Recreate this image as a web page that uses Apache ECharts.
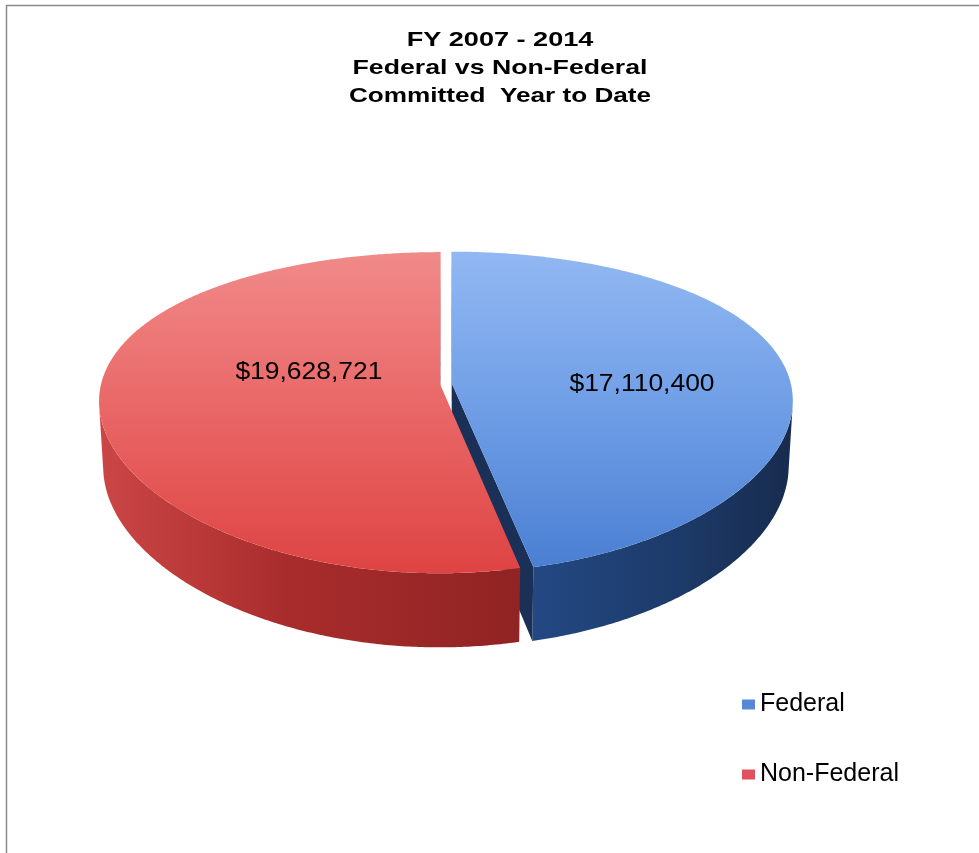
<!DOCTYPE html>
<html>
<head>
<meta charset="utf-8">
<title>FY 2007 - 2014 Federal vs Non-Federal</title>
<script src="https://cdn.jsdelivr.net/npm/echarts@6/dist/echarts.min.js"></script>
<style>
  html, body { margin: 0; padding: 0; background: #ffffff; }
  #chart { width: 979px; height: 853px; }
</style>
</head>
<body>
<div id="chart"></div>
<script>
// Committed amounts, fiscal years 2007-2014
const categories = ['Federal', 'Non-Federal'];
const amounts = [17110400, 19628721];
const titleLines = ['FY 2007 - 2014', 'Federal vs Non-Federal', 'Committed  Year to Date'];

const FONT = "'Liberation Sans', Arial, Helvetica, sans-serif";

// Camera for the tilted disc (unit radius, viewed from above and in front)
const CX = 446, CY = 384;        // screen position of the disc centre
const FOCAL = 1705;              // focal length in px
const DIST = 5.03;               // camera distance, in radii
const TILT = 27.3 * Math.PI / 180;
const H_PERSP = 0.6;             // strength of horizontal foreshortening
const THICK = 0.22;              // disc thickness, in radii
const EXPLODE = 0.0176;          // slice separation, in radii
const sinA = Math.sin(TILT), cosA = Math.cos(TILT);

const total = amounts.reduce((s, v) => s + v, 0);
const rad = d => d * Math.PI / 180;
const LG = echarts.graphic.LinearGradient;

// world: X right, Y up, Z towards the viewer
function project(X, Y, Z) {
  const zy = DIST - Y * sinA - Z * cosA;
  const zx = DIST - (Y * sinA + Z * cosA) * H_PERSP;
  return [CX + FOCAL * X / zx, CY - FOCAL * (Y * cosA - Z * sinA) / zy];
}
const camera = [0, DIST * sinA, DIST * cosA];

const sliceStyles = [
  { // Federal
    legend: '#5688d6',
    top: new LG(0, 0, 0, 1, [
      { offset: 0, color: '#92b8f2' },
      { offset: 0.5, color: '#6f9ee6' },
      { offset: 1, color: '#4a7fd2' }]),
    side: new LG(0, 0, 1, 0, [
      { offset: 0, color: '#234883' },
      { offset: 0.55, color: '#1d3b6a' },
      { offset: 1, color: '#172b4e' }]),
    face: '#1a3056',
    labelShift: [22.6, 9.5]
  },
  { // Non-Federal
    legend: '#e0505e',
    top: new LG(0, 0, 0, 1, [
      { offset: 0, color: '#f18a8a' },
      { offset: 0.5, color: '#e96666' },
      { offset: 1, color: '#dd4443' }]),
    side: new LG(0, 0, 1, 0, [
      { offset: 0, color: '#cc4646' },
      { offset: 0.45, color: '#a92c2c' },
      { offset: 1, color: '#902323' }]),
    face: '#7a1c1c',
    labelShift: [38.4, -19.6]
  }
];

function signedArea(pts) {
  let s = 0;
  for (let i = 0; i < pts.length; i++) {
    const p = pts[i], q = pts[(i + 1) % pts.length];
    s += p[0] * q[1] - q[0] * p[1];
  }
  return s / 2;
}

// orientation of a wall segment that faces the viewer
const FRONT_SIGN = Math.sign(signedArea([
  project(Math.sin(rad(179.5)), 0, -Math.cos(rad(179.5))),
  project(Math.sin(rad(180.5)), 0, -Math.cos(rad(180.5))),
  project(Math.sin(rad(180.5)), -THICK, -Math.cos(rad(180.5))),
  project(Math.sin(rad(179.5)), -THICK, -Math.cos(rad(179.5)))
]));

function renderSlice(k) {
  return function (params, api) {
    const val = api.value(0);
    let before = 0;
    for (let i = 0; i < k; i++) before += amounts[i];
    const t0 = before / total * 360;
    const t1 = (before + val) / total * 360;
    const mid = (t0 + t1) / 2;
    const ex = EXPLODE * Math.sin(rad(mid));
    const ez = -EXPLODE * Math.cos(rad(mid));
    const W = (t, r, y) => [ex + r * Math.sin(rad(t)), y, ez - r * Math.cos(rad(t))];
    const P = (t, r, y) => { const w = W(t, r, y); return project(w[0], w[1], w[2]); };
    const arc = (a0, a1, y) => {
      const n = Math.max(2, Math.ceil(Math.abs(a1 - a0) * 2));
      const pts = [];
      for (let i = 0; i <= n; i++) pts.push(P(a0 + (a1 - a0) * i / n, 1, y));
      return pts;
    };
    const st = sliceStyles[k];
    const children = [];

    // outer wall: keep the run of segments that turn towards the viewer
    const step = 0.5;
    let runStart = null, runEnd = null;
    for (let t = t0; t < t1 - 1e-9; t += step) {
      const u = Math.min(t + step, t1);
      const quad = [P(t, 1, 0), P(u, 1, 0), P(u, 1, -THICK), P(t, 1, -THICK)];
      if (Math.sign(signedArea(quad)) === FRONT_SIGN) {
        if (runStart === null) runStart = t;
        runEnd = u;
      }
    }
    if (runStart !== null) {
      children.push({
        type: 'polygon',
        shape: { points: arc(runStart, runEnd, 0).concat(arc(runEnd, runStart, -THICK)) },
        style: { fill: st.side }
      });
    }
    // cut faces that turn towards the viewer
    [[t1, 1], [t0, -1]].forEach(([t, dir]) => {
      const n = [dir * Math.cos(rad(t)), 0, dir * Math.sin(rad(t))];
      const m = W(t, 0.5, -THICK / 2);
      const dot = n[0] * (camera[0] - m[0]) + n[1] * (camera[1] - m[1]) + n[2] * (camera[2] - m[2]);
      if (dot > 0) {
        children.push({
          type: 'polygon',
          shape: { points: [P(t, 0, 0), P(t, 1, 0), P(t, 1, -THICK), P(t, 0, -THICK)] },
          style: { fill: st.face }
        });
      }
    });
    // top face
    children.push({
      type: 'polygon',
      shape: { points: [P(t0, 0, 0)].concat(arc(t0, t1, 0)) },
      style: { fill: st.top }
    });
    // value label
    const lp = P(mid, 0.5, 0);
    children.push({
      type: 'text',
      x: lp[0] + st.labelShift[0],
      y: lp[1] + st.labelShift[1],
      scaleX: 1.15,
      style: {
        text: '$' + echarts.format.addCommas(val),
        fill: '#000000',
        font: '23px ' + FONT,
        align: 'center', verticalAlign: 'middle',
        textAlign: 'center', textVerticalAlign: 'middle'
      }
    });
    return { type: 'group', children: children };
  };
}

const chart = echarts.init(document.getElementById('chart'), null, { renderer: 'canvas' });

const titleScale = [1.29, 1.27, 1.245];

chart.setOption({
  animation: false,
  backgroundColor: '#ffffff',
  legend: {
    data: categories,
    orient: 'vertical',
    left: 737,
    top: 687,
    icon: 'rect',
    itemWidth: 13,
    itemHeight: 10,
    itemGap: 45,
    selectedMode: false,
    textStyle: { fontSize: 25, color: '#000000', fontFamily: FONT }
  },
  graphic: [
    {
      type: 'rect',
      silent: true,
      shape: { x: 6.5, y: 5.5, width: 1000, height: 900 },
      style: { fill: null, stroke: '#8a8a8a', lineWidth: 1.5 }
    }
  ].concat(titleLines.map((line, i) => ({
    type: 'text',
    silent: true,
    x: 500,
    y: 40 + i * 28,
    scaleX: titleScale[i],
    style: {
      text: line,
      fill: '#000000',
      font: 'bold 21px ' + FONT,
      textAlign: 'center', textVerticalAlign: 'middle',
      align: 'center', verticalAlign: 'middle'
    }
  }))),
  series: categories.map((name, k) => ({
    type: 'custom',
    name: name,
    coordinateSystem: 'none',
    silent: true,
    itemStyle: { color: sliceStyles[k].legend },
    data: [[amounts[k]]],
    renderItem: renderSlice(k)
  }))
});
</script>
</body>
</html>
